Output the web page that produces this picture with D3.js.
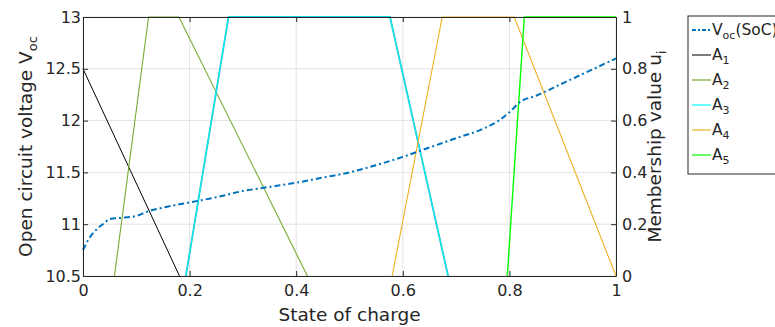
<!DOCTYPE html>
<html>
<head>
<meta charset="utf-8">
<script src="https://cdn.jsdelivr.net/npm/d3@7"></script>
<style>
  body { margin: 0; background: #fff; }
  svg text { font-family: "DejaVu Sans", sans-serif; fill: #262626; }
</style>
</head>
<body>
<svg class="soc-plot" width="775" height="327"></svg>
<script>
// open circuit voltage curve
var socValues = [0, 0.01, 0.02, 0.03, 0.04, 0.05, 0.07, 0.1, 0.12, 0.15, 0.2, 0.25, 0.3, 0.35, 0.4,
                 0.45, 0.5, 0.55, 0.6, 0.65, 0.7, 0.75, 0.78, 0.8, 0.82, 0.85, 0.9, 0.95, 1.0];
var vocValues = [10.75, 10.85, 10.92, 10.97, 11.01, 11.05, 11.06, 11.08, 11.12, 11.16, 11.21, 11.26, 11.32, 11.36, 11.40,
                 11.45, 11.50, 11.57, 11.65, 11.74, 11.83, 11.92, 12.00, 12.08, 12.18, 12.24, 12.36, 12.48, 12.60];

// membership functions (corner points: soc, membership)
var a1Points = [[0, 0.80], [0.181, 0]];
var a2Points = [[0.059, 0], [0.123, 1], [0.180, 1], [0.421, 0]];
var a3Points = [[0.193, 0], [0.273, 1], [0.576, 1], [0.685, 0]];
var a4Points = [[0.580, 0], [0.674, 1], [0.809, 1], [1.0, 0]];
var a5Points = [[0.796, 0], [0.828, 1], [1.0, 1]];

var xTicks = [0, 0.2, 0.4, 0.6, 0.8, 1];
var yLeftTicks = [10.5, 11, 11.5, 12, 12.5, 13];
var yRightTicks = [0, 0.2, 0.4, 0.6, 0.8, 1];

var legendNames = ['V', 'A1', 'A2', 'A3', 'A4', 'A5'];

var svg = d3.select('svg.soc-plot');
var padding = {t: 17, r: 159, b: 51, l: 83};
var chartWidth = +svg.attr('width') - padding.l - padding.r;
var chartHeight = +svg.attr('height') - padding.t - padding.b;

var xScale = d3.scaleLinear().domain([0, 1]).range([0, chartWidth]);
var yLeft = d3.scaleLinear().domain([10.5, 13]).range([chartHeight, 0]);
var yRight = d3.scaleLinear().domain([0, 1]).range([chartHeight, 0]);

var chartG = svg.append('g')
    .attr('transform', 'translate(' + [padding.l, padding.t] + ')');

// grid
chartG.append('g').selectAll('line.vgrid')
    .data(xTicks).enter().append('line')
    .attr('x1', function(d) { return xScale(d); })
    .attr('x2', function(d) { return xScale(d); })
    .attr('y1', 0).attr('y2', chartHeight)
    .style('stroke', '#e3e3e3').style('stroke-width', 1);
chartG.append('g').selectAll('line.hgrid')
    .data(yLeftTicks).enter().append('line')
    .attr('y1', function(d) { return yLeft(d); })
    .attr('y2', function(d) { return yLeft(d); })
    .attr('x1', 0).attr('x2', chartWidth)
    .style('stroke', '#e3e3e3').style('stroke-width', 1);

// membership lines
var memLine = d3.line()
    .x(function(d) { return xScale(d[0]); })
    .y(function(d) { return yRight(d[1]); });

var members = [
    {pts: a1Points, color: '#000000', w: 1},
    {pts: a2Points, color: '#77ac30', w: 1.1},
    {pts: a3Points, color: '#2ab5c0', w: 1.8},
    {pts: a3Points, color: '#00ffff', w: 0.9},
    {pts: a4Points, color: '#edb120', w: 1.1},
    {pts: a5Points, color: '#00ff00', w: 1.4}
];
members.forEach(function(m) {
    chartG.append('path')
        .datum(m.pts)
        .attr('d', memLine)
        .style('fill', 'none')
        .style('stroke', m.color)
        .style('stroke-width', m.w);
});

// voc curve
var vocLine = d3.line()
    .x(function(d, i) { return xScale(socValues[i]); })
    .y(function(d) { return yLeft(d); })
    .curve(d3.curveMonotoneX);
chartG.append('path')
    .datum(vocValues)
    .attr('d', vocLine)
    .style('fill', 'none')
    .style('stroke', '#0072bd')
    .style('stroke-width', 2)
    .style('stroke-dasharray', '6,3,2,3');

// axes, ticks pointing inwards like matlab
var xAxisG = chartG.append('g')
    .attr('transform', 'translate(' + [0, chartHeight] + ')')
    .call(d3.axisBottom(xScale).tickValues(xTicks).tickSizeInner(-5).tickSizeOuter(0).tickPadding(9).tickFormat(d3.format('')));
var xTopG = chartG.append('g')
    .call(d3.axisTop(xScale).tickValues(xTicks).tickSizeInner(-5).tickSizeOuter(0).tickFormat(''));
var yLeftG = chartG.append('g')
    .call(d3.axisLeft(yLeft).tickValues(yLeftTicks).tickSizeInner(-5).tickSizeOuter(0).tickPadding(2).tickFormat(d3.format('')));
var yRightG = chartG.append('g')
    .attr('transform', 'translate(' + [chartWidth, 0] + ')')
    .call(d3.axisRight(yRight).tickValues(yRightTicks).tickSizeInner(-5).tickSizeOuter(0).tickPadding(6).tickFormat(d3.format('')));

chartG.selectAll('.domain').style('stroke', '#262626');
chartG.selectAll('.tick line').style('stroke', '#262626');
chartG.selectAll('.tick text').style('font-size', '16px').style('font-family', '"DejaVu Sans", sans-serif').style('fill', '#262626');

// axis labels
svg.append('text')
    .attr('transform', 'translate(' + (padding.l + chartWidth / 2) + ',' + 321 + ')')
    .attr('text-anchor', 'middle')
    .style('font-size', '18.5px')
    .text('State of charge');

var yl = svg.append('text')
    .attr('transform', 'translate(32,' + (padding.t + chartHeight / 2) + ') rotate(-90)')
    .attr('text-anchor', 'middle')
    .style('font-size', '18.5px');
yl.append('tspan').text('Open circuit voltage V');
yl.append('tspan').attr('dy', 5).style('font-size', '13px').text('oc');

var yr = svg.append('text')
    .attr('transform', 'translate(661,' + (padding.t + chartHeight / 2) + ') rotate(-90)')
    .attr('text-anchor', 'middle')
    .style('font-size', '18.5px');
yr.append('tspan').text('Membership value u');
yr.append('tspan').attr('dy', 5).style('font-size', '13px').text('i');

// legend
var legendG = svg.append('g').attr('transform', 'translate(688,16)');
legendG.append('rect')
    .attr('width', 100).attr('height', 158)
    .style('fill', '#fff').style('stroke', '#262626').style('stroke-width', 1);

var legendColors = ['#0072bd', '#262626', '#77ac30', '#00ffff', '#edb120', '#00ff00'];
legendNames.forEach(function(name, i) {
    var ly = 14 + i * 25;
    legendG.append('line')
        .attr('x1', 4).attr('x2', 23).attr('y1', ly).attr('y2', ly)
        .style('stroke', legendColors[i])
        .style('stroke-width', i === 0 ? 2 : 1.2)
        .style('stroke-dasharray', i === 0 ? '4,2,2,2' : null);
    var t = legendG.append('text')
        .attr('x', 24).attr('y', ly + 5)
        .style('font-size', '15.5px');
    if (i === 0) {
        t.append('tspan').text('V');
        t.append('tspan').attr('dy', 4).style('font-size', '11px').text('oc');
        t.append('tspan').attr('dy', -4).text('(SoC)');
    } else {
        t.append('tspan').text('A');
        t.append('tspan').attr('dy', 4).style('font-size', '11px').text(name.slice(1));
    }
});
</script>
</body>
</html>
